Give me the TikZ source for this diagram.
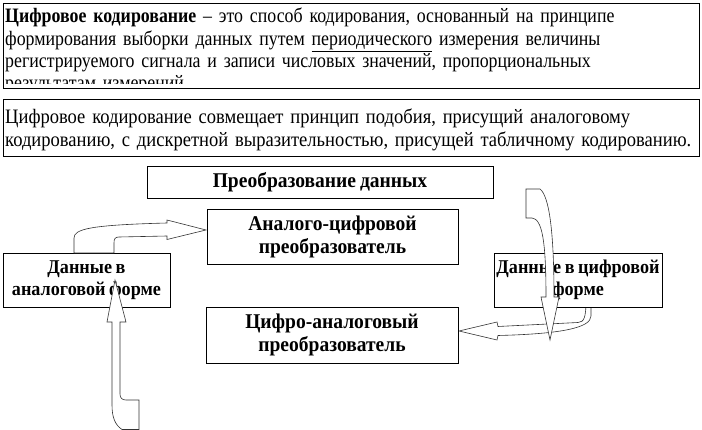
\documentclass[tikz,border=0pt]{standalone}
\usepackage{fontspec}
\setmainfont{Liberation Serif}[FakeStretch=0.93, WordSpace=0.8]
\newfontfamily\narrowserif{Liberation Serif}[FakeStretch=0.87, WordSpace=0.8]
\newfontfamily\combserif{Liberation Serif}[FakeStretch=0.905, WordSpace=0.8]

\begin{document}
\begin{tikzpicture}[x=1pt, y=-1pt,
	every node/.style = {font=\fontsize{20.5}{22.3}\selectfont},
	box/.style = {draw, line width=0.8pt, fill=white, inner sep=0pt},
	unit/.style = {box, align=center, font=\fontsize{21}{23}\selectfont\bfseries},
	dataunit/.style = {unit, font=\fontsize{19.5}{22}\selectfont\bfseries},
	bigarrow/.style = {draw=black!80, line width=0.6pt, fill=white}]
	\useasboundingbox (0,0) rectangle (702,430);
	\path[bigarrow] (591,300) -- (591,316) .. controls (591,328) and (560,334) .. (498,335.5)
		-- (497,340) -- (459,331) -- (497,322) -- (498,326.5) -- (578,322.5)
		.. controls (584,322) and (586,318) .. (586,300) -- cycle;
	\node[box, anchor=north west, minimum width=696pt, minimum height=85pt] (def) at (3,3) {};
	\node[box, anchor=north west, minimum width=696pt, minimum height=57pt] (combo) at (3,99) {};
	\begin{scope}
		\clip (3,3) rectangle (699,84);
		\node[anchor=base west, inner sep=0pt, text width=720pt, align=left,
			font=\narrowserif\fontsize{20.5}{22.3}\selectfont] (deftext) at (5,23)
			{\textbf{Цифровое кодирование} – это способ кодирования, основанный на принципе\\
			формирования выборки данных путем \underline{периодического} измерения величины\\
			регистрируемого сигнала и записи числовых значений, пропорциональных\\
			результатам измерений};
	\end{scope}
	\node[anchor=base west, inner sep=0pt, text width=720pt, align=left,
		font=\combserif\fontsize{20.5}{22.3}\selectfont] (combotext) at (5,124)
		{Цифровое кодирование совмещает принцип подобия, присущий аналоговому\\
		кодированию, с дискретной выразительностью, присущей табличному кодированию.};
	\node[unit, minimum width=346pt, minimum height=32pt] (title) at (320,182) {Преобразование данных};
	\node[unit, minimum width=251pt, minimum height=55pt] (adc) at (332.5,236.5) {Аналого-цифровой\\преобразователь};
	\node[unit, minimum width=252pt, minimum height=56pt] (dac) at (332,335) {Цифро-аналоговый\\преобразователь};
	\node[dataunit, minimum width=167pt, minimum height=54pt] (analog) at (86.5,280) {Данные в\\аналоговой форме};
	\node[dataunit, minimum width=168pt, minimum height=54pt] (digital) at (578,280) {Данные в цифровой\\форме};
	\path[bigarrow] (74,253) -- (74,238) .. controls (74,229) and (90,225) .. (167,223) -- (167,220)
		-- (206,230) -- (167,239.5) -- (167,236) -- (119,237)
		.. controls (115,237) and (114,239) .. (114,243) -- (114,253) -- cycle;
	\path[bigarrow] (115,280) -- (126,322) -- (120,322) -- (120,394)
		.. controls (120,398) and (122,400) .. (126,400) -- (139,400) -- (139,429.5) -- (122,429.5)
		.. controls (115,425) and (112,417) .. (112,405) -- (112,322) -- (107,322) -- cycle;
	\path[bigarrow] (526,189) -- (540,189) .. controls (549,196) and (554,230) .. (554,297)
		-- (559,297) -- (550,340) -- (541,297) -- (546,297)
		.. controls (546,240) and (542,219) .. (532,218) -- (526,218) -- cycle;
\end{tikzpicture}
\end{document}
